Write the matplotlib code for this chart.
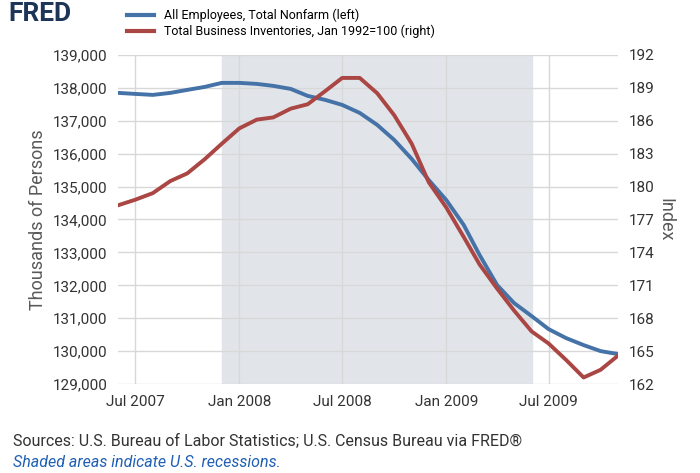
import matplotlib
matplotlib.use("Agg")
import matplotlib.pyplot as plt
import pandas as pd

plt.rcParams['font.family'] = ['Roboto', 'DejaVu Sans']

months = pd.date_range("2007-06-01", "2009-11-01", freq="MS")
employees = [137845, 137814, 137784, 137845, 137936, 138027, 138149, 138149, 138118, 138058,
             137966, 137754, 137632, 137480, 137237, 136872, 136416, 135838, 135200, 134592,
             133832, 132920, 132008, 131461, 131066, 130670, 130397, 130184, 130002, 129910]
inventories = [178.3, 178.8, 179.4, 180.5, 181.2, 182.5, 183.9, 185.3, 186.1, 186.3,
               187.1, 187.5, 188.7, 189.9, 189.9, 188.5, 186.5, 183.9, 180.4, 178.1,
               175.4, 172.9, 170.7, 168.7, 166.8, 165.7, 164.2, 162.6, 163.3, 164.6]
recession = (pd.Timestamp("2007-12-01"), pd.Timestamp("2009-06-01"))
xticks = pd.to_datetime(["2007-07-01", "2008-01-01", "2008-07-01", "2009-01-01", "2009-07-01"])
xlabels = ["Jul 2007", "Jan 2008", "Jul 2008", "Jan 2009", "Jul 2009"]

fig = plt.figure(figsize=(7, 4.73), dpi=100)
ax = fig.add_axes([0.169, 0.188, 0.714, 0.696])
ax.axvspan(*recession, color="#e1e5ea", zorder=0)
blue, red = "#4572a7", "#aa4643"
ax.plot(months, employees, color=blue, lw=2.8, zorder=3)
ax.set_xlim(months[0], months[-1])
ax.set_ylim(129000, 139000)
ax.set_yticks(range(129000, 139001, 1000))
ax.set_yticklabels([f"{v:,}" for v in range(129000, 139001, 1000)])
ax.set_xticks(xticks)
ax.set_xticklabels(xlabels)
ax.grid(axis="both", color="#d8d8d8", lw=1, zorder=1)
ax.set_ylabel("Thousands of Persons", fontsize=13, color="#595959")
ax2 = ax.twinx()
ax2.plot(months, inventories, color=red, lw=2.8, zorder=3)
ax2.set_ylim(162, 192)
ax2.set_yticks(range(162, 193, 3))
ax2.set_ylabel("Index", fontsize=13, color="#595959", rotation=270, labelpad=14)
for a in (ax, ax2):
    for s in a.spines.values():
        s.set_visible(False)
    a.tick_params(length=0, labelsize=11, labelcolor="#333333", pad=8)

fig.text(0.012, 0.955, "FRED", fontsize=19, fontweight="bold", color="#1d3557")
fig.legend(handles=[plt.Line2D([], [], color=blue, lw=3), plt.Line2D([], [], color=red, lw=3)],
           labels=["All Employees, Total Nonfarm (left)", "Total Business Inventories, Jan 1992=100 (right)"],
           loc="upper left", bbox_to_anchor=(0.165, 1.005), frameon=False, fontsize=9,
           handlelength=2.2, labelspacing=0.2)
fig.text(0.018, 0.06, "Sources: U.S. Bureau of Labor Statistics; U.S. Census Bureau via FRED®",
         fontsize=11.5, color="#333333")
fig.text(0.018, 0.013, "Shaded areas indicate U.S. recessions.", fontsize=11.5,
         color="#1f5fb4", style="italic")
fig.savefig("out.png", dpi=100)
